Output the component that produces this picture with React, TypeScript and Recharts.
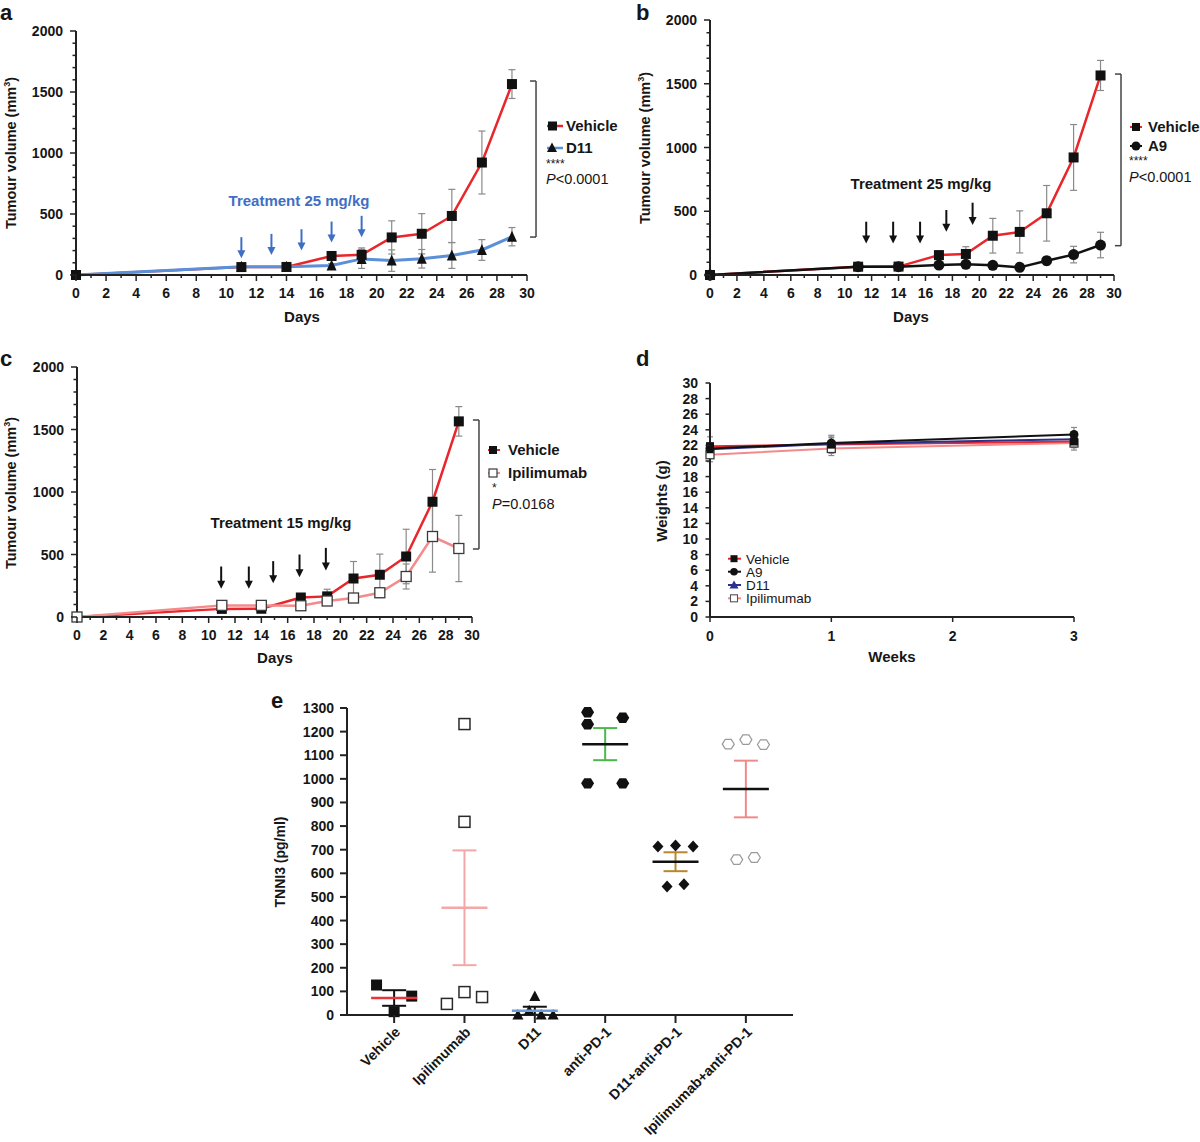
import React from "react";
import {
  LineChart,
  Line,
  XAxis,
  YAxis,
  ErrorBar,
  ReferenceLine,
  ScatterChart,
  Scatter,
} from "recharts";

const FONT = "'Liberation Sans', Arial, Helvetica, sans-serif";
const INK = "#161616";
const AXIS = "#222";
const ERR = "#8a8a8a";
const RED = "#e8262b";
const BLUE = "#5b8fd7";
const TREAT_BLUE = "#3f6fc4";
const PINK = "#f28b8b";
const NAVY = "#2c318f";

// a-c: tumour volume (mm3) by day
const days = [0, 11, 14, 17, 19, 21, 23, 25, 27, 29];
const vehicleVol = [0, 65, 66, 156, 165, 308, 338, 484, 922, 1565];
const vehicleSem = [0, 20, 18, 30, 57, 136, 165, 218, 258, 118];
const d11Vol = [0, 68, 68, 78, 132, 118, 133, 160, 205, 314];
const d11Sem = [0, 22, 15, 15, 78, 88, 76, 106, 85, 75];
const a9Vol = [0, 65, 65, 78, 84, 76, 60, 112, 160, 235];
const a9Sem = [0, 10, 10, 12, 12, 12, 12, 33, 65, 100];
const ipiVol = [0, 93, 93, 90, 128, 152, 194, 324, 644, 548];
const ipiSem = [0, 15, 12, 20, 25, 25, 38, 100, 285, 265];

const dayTicks = Array.from({ length: 31 }, (_, i) => i);
const volTicks = Array.from({ length: 21 }, (_, i) => i * 100);

// treatment arrows: day, top of shaft, tip (mm3)
const arrowDaysA = [11, 13, 15, 17, 19];
const arrowTopA = [310, 337, 375, 438, 485];
const arrowTipA = [137, 164, 200, 266, 310];
const arrowDaysB = [11.6, 13.6, 15.6, 17.55, 19.5];
const arrowTopB = [418, 418, 418, 510, 567];
const arrowTipB = [248, 248, 248, 340, 392];
const arrowDaysC = [10.95, 13.05, 14.9, 16.9, 18.9];
const arrowTopC = [404, 404, 447, 500, 553];
const arrowTipC = [226, 226, 271, 319, 372];

// d: body weight (g) by week
const weeks = [0, 1, 3];
const weekTicks = [0, 1, 2, 3];
const wtTicks = [0, 2, 4, 6, 8, 10, 12, 14, 16, 18, 20, 22, 24, 26, 28, 30];
const vehicleWt = [21.9, 22.1, 22.5];
const vehicleWtSem = [1.2, 1.1, 0.8];
const a9Wt = [21.6, 22.3, 23.4];
const a9WtSem = [0.6, 1.0, 0.9];
const d11Wt = [21.5, 22.2, 22.8];
const d11WtSem = [0.8, 0.8, 0.8];
const ipiWt = [20.8, 21.6, 22.3];
const ipiWtSem = [0.9, 0.9, 0.9];

// e: TNNI3 (pg/ml) per group
const groups = ["Vehicle", "Ipilimumab", "D11", "anti-PD-1", "D11+anti-PD-1", "Ipilimumab+anti-PD-1"];
const tnniTicks = Array.from({ length: 14 }, (_, i) => i * 100);
const groupJitter = [
  [-0.25, 0.25, 0],
  [0, 0, -0.25, 0, 0.25],
  [0, -0.08, -0.24, 0.09, 0.26],
  [-0.25, -0.25, 0.25, -0.25, 0.25],
  [-0.25, 0, 0.25, -0.12, 0.12],
  [-0.25, 0, 0.25, -0.13, 0.12],
];
const groupValues = [
  [127, 80, 14],
  [1232, 818, 47, 97, 76],
  [78, 18, 0, 0, 0],
  [1282, 1231, 1259, 981, 981],
  [714, 718, 714, 544, 554],
  [1147, 1166, 1145, 658, 667],
];
const groupMean = [72, 454, 18, 1147, 649, 957];
const groupSem = [33, 243, 17, 68, 40, 120];
const meanColor = ["#e8353a", "#f4a7a7", "#6b9edc", "#111", "#111", "#111"];
const semColor = ["#111", "#f4a7a7", "#111", "#4cb84c", "#b8862e", "#f08a8a"];

const tickText = { fontFamily: FONT, fontWeight: "bold" as const, fontSize: 14, fill: INK };

function DayTick(p: any) {
  const major = p.payload.value % 2 === 0;
  return (
    <g>
      <line x1={p.x} x2={p.x} y1={p.y} y2={p.y + (major ? 6 : 3)} stroke={AXIS} strokeWidth={1.5} />
      {major && (
        <text x={p.x} y={p.y + 23} textAnchor="middle" {...tickText}>
          {p.payload.value}
        </text>
      )}
    </g>
  );
}

function VolTick(p: any) {
  const major = p.payload.value % 500 === 0;
  return (
    <g>
      <line x1={p.x} x2={p.x - (major ? 6 : 3.5)} y1={p.y} y2={p.y} stroke={AXIS} strokeWidth={1.5} />
      {major && (
        <text x={p.x - 13} y={p.y + 5} textAnchor="end" {...tickText}>
          {p.payload.value}
        </text>
      )}
    </g>
  );
}

function Arrow(p: any) {
  const c = p.color;
  const h = 8;
  return (
    <g>
      <line x1={p.x1} y1={p.y1} x2={p.x2} y2={p.y2 - h + 1} stroke={c} strokeWidth={2} />
      <polygon points={`${p.x2 - 4},${p.y2 - h} ${p.x2 + 4},${p.y2 - h} ${p.x2},${p.y2}`} fill={c} />
    </g>
  );
}

const squareDot = (size: number) => (p: any) =>
  <rect key={p.index} x={p.cx - size / 2} y={p.cy - size / 2} width={size} height={size} fill="#111" />;
const openSquareDot = (size: number) => (p: any) =>
  <rect key={p.index} x={p.cx - size / 2} y={p.cy - size / 2} width={size} height={size} fill="#fff" stroke="#3a3a3a" strokeWidth={1.3} />;
const triangleDot = (size: number, fill = "#111") => (p: any) =>
  <polygon key={p.index} points={`${p.cx},${p.cy - size / 2 - 1} ${p.cx + size / 2},${p.cy + size / 2} ${p.cx - size / 2},${p.cy + size / 2}`} fill={fill} />;
const circleDot = (r: number) => (p: any) => <circle key={p.index} cx={p.cx} cy={p.cy} r={r} fill="#111" />;

function VolumeChart(p: {
  left: number; top: number; width: number; height: number;
  mTop: number; mRight: number; yWidth: number; xHeight: number;
  alt: number[]; altSem: number[]; altColor: string; altWidth: number; altDot: any;
  arrowDays: number[]; arrowTop: number[]; arrowTip: number[]; arrowColor: string;
  bracketX: number; bracketTickX: number; bracketTop: number; bracketBottom: number;
}) {
  const rows = days.map((d, i) => ({
    day: d, veh: vehicleVol[i], vehErr: vehicleSem[i], alt: p.alt[i], altErr: p.altSem[i],
  }));
  const br = { stroke: "#444", strokeWidth: 1.5, ifOverflow: "visible" as const };
  return (
    <div style={{ position: "absolute", left: p.left, top: p.top }}>
      <LineChart width={p.width} height={p.height} data={rows} margin={{ top: p.mTop, right: p.mRight, left: 0, bottom: 0 }}>
        <XAxis type="number" dataKey="day" domain={[0, 30]} ticks={dayTicks} interval={0} height={p.xHeight}
          tick={(t: any) => <DayTick {...t} />} tickSize={0} tickMargin={0} tickLine={false}
          axisLine={{ stroke: AXIS, strokeWidth: 2 }} />
        <YAxis type="number" domain={[0, 2000]} ticks={volTicks} interval={0} width={p.yWidth}
          tick={(t: any) => <VolTick {...t} />} tickSize={0} tickMargin={0} tickLine={false}
          axisLine={{ stroke: AXIS, strokeWidth: 2 }} />
        <Line dataKey="veh" stroke={RED} strokeWidth={2.5} dot={squareDot(10)} activeDot={false} isAnimationActive={false}>
          <ErrorBar dataKey="vehErr" width={3.5} stroke={ERR} strokeWidth={1.2} />
        </Line>
        <Line dataKey="alt" stroke={p.altColor} strokeWidth={p.altWidth} dot={p.altDot} activeDot={false} isAnimationActive={false}>
          <ErrorBar dataKey="altErr" width={3.5} stroke={ERR} strokeWidth={1.2} />
        </Line>
        {p.arrowDays.map((d, i) => (
          <ReferenceLine key={"ar" + i} ifOverflow="visible"
            segment={[{ x: d, y: p.arrowTop[i] }, { x: d, y: p.arrowTip[i] }]}
            shape={(s: any) => <Arrow {...s} color={p.arrowColor} />} />
        ))}
        <ReferenceLine {...br} segment={[{ x: p.bracketX, y: p.bracketTop }, { x: p.bracketX, y: p.bracketBottom }]} />
        <ReferenceLine {...br} segment={[{ x: p.bracketTickX, y: p.bracketTop }, { x: p.bracketX, y: p.bracketTop }]} />
        <ReferenceLine {...br} segment={[{ x: p.bracketTickX, y: p.bracketBottom }, { x: p.bracketX, y: p.bracketBottom }]} />
      </LineChart>
    </div>
  );
}

function WeightChart() {
  const rows = weeks.map((w, i) => ({
    week: w,
    veh: vehicleWt[i], vehErr: vehicleWtSem[i],
    a9: a9Wt[i], a9Err: a9WtSem[i],
    d11: d11Wt[i], d11Err: d11WtSem[i],
    ipi: ipiWt[i], ipiErr: ipiWtSem[i],
  }));
  const series = [
    { key: "ipi", color: PINK, dot: openSquareDot(8) },
    { key: "veh", color: RED, dot: squareDot(8) },
    { key: "d11", color: NAVY, dot: triangleDot(8) },
    { key: "a9", color: "#111", dot: circleDot(4.5) },
  ];
  return (
    <div style={{ position: "absolute", left: 620, top: 340 }}>
      <LineChart width={580} height={330} data={rows} margin={{ top: 43, right: 126, left: 0, bottom: 0 }}>
        <XAxis type="number" dataKey="week" domain={[0, 3]} ticks={weekTicks} interval={0} height={53}
          tickSize={0} tickMargin={0} tickLine={false} axisLine={{ stroke: AXIS, strokeWidth: 2 }}
          tick={(t: any) => (
            <g>
              <line x1={t.x} x2={t.x} y1={t.y} y2={t.y + 5} stroke={AXIS} strokeWidth={1.5} />
              <text x={t.x} y={t.y + 24} textAnchor="middle" {...tickText}>{t.payload.value}</text>
            </g>
          )} />
        <YAxis type="number" domain={[0, 30]} ticks={wtTicks} interval={0} width={90}
          tickSize={0} tickMargin={0} tickLine={false} axisLine={{ stroke: AXIS, strokeWidth: 2 }}
          tick={(t: any) => (
            <g>
              <line x1={t.x} x2={t.x - 4.5} y1={t.y} y2={t.y} stroke={AXIS} strokeWidth={1.5} />
              <text x={t.x - 12} y={t.y + 5} textAnchor="end" {...tickText}>{t.payload.value}</text>
            </g>
          )} />
        {series.map((s) => (
          <Line key={s.key} dataKey={s.key} stroke={s.color} strokeWidth={2} dot={s.dot} activeDot={false} isAnimationActive={false}>
            <ErrorBar dataKey={s.key + "Err"} width={3} stroke={ERR} strokeWidth={1.2} />
          </Line>
        ))}
      </LineChart>
    </div>
  );
}

const groupShape = [
  (p: any) => <rect x={p.cx - 5.5} y={p.cy - 5.5} width={11} height={11} fill="#111" />,
  (p: any) => <rect x={p.cx - 5.5} y={p.cy - 5.5} width={11} height={11} fill="#fff" stroke="#2a2a2a" strokeWidth={1.5} />,
  (p: any) => <polygon points={`${p.cx},${p.cy - 6} ${p.cx + 5.5},${p.cy + 4.5} ${p.cx - 5.5},${p.cy + 4.5}`} fill="#111" />,
  (p: any) => <polygon points={`${p.cx - 6.5},${p.cy} ${p.cx - 3.3},${p.cy - 5.2} ${p.cx + 3.3},${p.cy - 5.2} ${p.cx + 6.5},${p.cy} ${p.cx + 3.3},${p.cy + 5.2} ${p.cx - 3.3},${p.cy + 5.2}`} fill="#111" />,
  (p: any) => <polygon points={`${p.cx},${p.cy - 6} ${p.cx + 5.5},${p.cy} ${p.cx},${p.cy + 6} ${p.cx - 5.5},${p.cy}`} fill="#111" />,
  (p: any) => <polygon points={`${p.cx - 6},${p.cy} ${p.cx - 3},${p.cy - 4.8} ${p.cx + 3},${p.cy - 4.8} ${p.cx + 6},${p.cy} ${p.cx + 3},${p.cy + 4.8} ${p.cx - 3},${p.cy + 4.8}`} fill="#fff" stroke="#9a9a9a" strokeWidth={1.2} />,
];

function TnniChart() {
  return (
    <div style={{ position: "absolute", left: 260, top: 680 }}>
      <ScatterChart width={560} height={462} margin={{ top: 28, right: 27, left: 0, bottom: 0 }}>
        <XAxis type="number" dataKey="x" domain={[-0.67, 5.67]} ticks={[0, 1, 2, 3, 4, 5]} interval={0} height={127}
          tickSize={0} tickMargin={0} tickLine={false} axisLine={{ stroke: AXIS, strokeWidth: 2 }}
          tick={(t: any) => (
            <g>
              <line x1={t.x} x2={t.x} y1={t.y} y2={t.y + 8} stroke={AXIS} strokeWidth={2} />
              <text transform={`translate(${t.x + 7},${t.y + 18}) rotate(-45)`} textAnchor="end" {...tickText} fontSize={14.2}>
                {groups[t.payload.value]}
              </text>
            </g>
          )} />
        <YAxis type="number" dataKey="y" domain={[0, 1300]} ticks={tnniTicks} interval={0} width={87}
          tickSize={0} tickMargin={0} tickLine={false} axisLine={{ stroke: AXIS, strokeWidth: 2 }}
          tick={(t: any) => (
            <g>
              <line x1={t.x} x2={t.x - 7} y1={t.y} y2={t.y} stroke={AXIS} strokeWidth={2} />
              <text x={t.x - 13} y={t.y + 5} textAnchor="end" {...tickText}>{t.payload.value}</text>
            </g>
          )} />
        {groups.map((g, gi) => (
          <Scatter key={"pts" + gi} data={groupValues[gi].map((v, k) => ({ x: gi + groupJitter[gi][k], y: v }))}
            shape={groupShape[gi]} isAnimationActive={false} />
        ))}
        {groups.map((g, gi) => (
          <Scatter key={"mean" + gi} data={[{ x: gi, y: groupMean[gi], err: groupSem[gi] }]} isAnimationActive={false}
            shape={(p: any) => <line x1={p.cx - 23} x2={p.cx + 23} y1={p.cy} y2={p.cy} stroke={meanColor[gi]} strokeWidth={2.5} />}>
            <ErrorBar dataKey="err" direction="y" width={12} stroke={semColor[gi]} strokeWidth={2} />
          </Scatter>
        ))}
      </ScatterChart>
    </div>
  );
}

const T = (props: any) => <text fontFamily={FONT} fill={INK} {...props} />;

function Overlay() {
  const bold = { fontWeight: "bold" };
  return (
    <svg width={1200} height={1142} style={{ position: "absolute", left: 0, top: 0, pointerEvents: "none" }}>
      {/* panel letters */}
      <T x={0} y={20} fontSize={22} {...bold}>a</T>
      <T x={636} y={20} fontSize={22} {...bold}>b</T>
      <T x={0} y={366} fontSize={22} {...bold}>c</T>
      <T x={636} y={366} fontSize={22} {...bold}>d</T>
      <T x={271} y={708} fontSize={22} {...bold}>e</T>

      {/* axis titles */}
      {[[16, 153], [650, 148], [16, 493]].map(([x, y], i) => (
        <T key={"yt" + i} transform={`translate(${x},${y}) rotate(-90)`} textAnchor="middle" fontSize={14.5} {...bold}>
          Tumour volume (mm<tspan dy={-6} fontSize={9}>3</tspan><tspan dy={6}>)</tspan>
        </T>
      ))}
      <T transform="translate(667,501) rotate(-90)" textAnchor="middle" fontSize={15} {...bold}>Weights (g)</T>
      <T transform="translate(285,862) rotate(-90)" textAnchor="middle" fontSize={14} {...bold}>TNNI3 (pg/ml)</T>
      <T x={302} y={322} textAnchor="middle" fontSize={15} {...bold}>Days</T>
      <T x={911} y={322} textAnchor="middle" fontSize={15} {...bold}>Days</T>
      <T x={275} y={663} textAnchor="middle" fontSize={15} {...bold}>Days</T>
      <T x={892} y={662} textAnchor="middle" fontSize={15} {...bold}>Weeks</T>

      {/* treatment labels */}
      <T x={299} y={206} textAnchor="middle" fontSize={15} fill={TREAT_BLUE} {...bold}>Treatment 25 mg/kg</T>
      <T x={921} y={189} textAnchor="middle" fontSize={15} {...bold}>Treatment 25 mg/kg</T>
      <T x={281} y={528} textAnchor="middle" fontSize={15} {...bold}>Treatment 15 mg/kg</T>

      {/* legend a */}
      <line x1={547} x2={563} y1={126} y2={126} stroke={RED} strokeWidth={2.5} />
      <rect x={548} y={121.5} width={9} height={9} fill="#111" />
      <line x1={547} x2={563} y1={148} y2={148} stroke={BLUE} strokeWidth={2.5} />
      <polygon points="552,142.5 557,152 547,152" fill="#111" />
      <T x={566} y={131} fontSize={15} {...bold}>Vehicle</T>
      <T x={566} y={153} fontSize={15} {...bold}>D11</T>
      <T x={546} y={168} fontSize={12}>****</T>
      <T x={546} y={184} fontSize={14.5}><tspan fontStyle="italic">P</tspan>&lt;0.0001</T>

      {/* legend b */}
      <line x1={1130} x2={1142} y1={127} y2={127} stroke={RED} strokeWidth={2} />
      <rect x={1132} y={123} width={8} height={8} fill="#111" />
      <line x1={1130} x2={1142} y1={146} y2={146} stroke="#111" strokeWidth={2} />
      <circle cx={1136} cy={146} r={4.5} fill="#111" />
      <T x={1148} y={132} fontSize={15} {...bold}>Vehicle</T>
      <T x={1148} y={151} fontSize={15} {...bold}>A9</T>
      <T x={1129} y={165} fontSize={12}>****</T>
      <T x={1129} y={182} fontSize={14.5}><tspan fontStyle="italic">P</tspan>&lt;0.0001</T>

      {/* legend c */}
      <line x1={488} x2={500} y1={450} y2={450} stroke={RED} strokeWidth={2} />
      <rect x={489} y={446} width={8} height={8} fill="#111" />
      <line x1={488} x2={500} y1={473} y2={473} stroke={PINK} strokeWidth={2} />
      <rect x={489} y={469} width={8} height={8} fill="#fff" stroke="#3a3a3a" strokeWidth={1.2} />
      <T x={508} y={455} fontSize={15} {...bold}>Vehicle</T>
      <T x={508} y={478} fontSize={15} {...bold}>Ipilimumab</T>
      <T x={492} y={492} fontSize={12}>*</T>
      <T x={492} y={509} fontSize={14.5}><tspan fontStyle="italic">P</tspan>=0.0168</T>

      {/* legend d */}
      <line x1={728} x2={741} y1={558.7} y2={558.7} stroke={RED} strokeWidth={2} />
      <rect x={730.5} y={555.2} width={7} height={7} fill="#111" />
      <line x1={728} x2={741} y1={571.7} y2={571.7} stroke="#111" strokeWidth={2} />
      <circle cx={734} cy={571.7} r={3.8} fill="#111" />
      <line x1={728} x2={741} y1={585} y2={585} stroke={NAVY} strokeWidth={2} />
      <polygon points="734,580.5 738.5,588.5 729.5,588.5" fill={NAVY} />
      <line x1={728} x2={741} y1={598.3} y2={598.3} stroke={PINK} strokeWidth={2} />
      <rect x={730.5} y={594.8} width={7} height={7} fill="#fff" stroke="#555" strokeWidth={1.1} />
      <T x={746} y={563.5} fontSize={13.5}>Vehicle</T>
      <T x={746} y={576.5} fontSize={13.5}>A9</T>
      <T x={746} y={589.5} fontSize={13.5}>D11</T>
      <T x={746} y={603} fontSize={13.5}>Ipilimumab</T>
    </svg>
  );
}

export default function App() {
  return (
    <div style={{ position: "absolute", left: 0, top: 0, width: 1200, height: 1142, background: "#fff", fontFamily: FONT }}>
      <VolumeChart left={0} top={0} width={620} height={330} mTop={31} mRight={93} yWidth={76} xHeight={55}
        alt={d11Vol} altSem={d11Sem} altColor={BLUE} altWidth={3} altDot={triangleDot(10)}
        arrowDays={arrowDaysA} arrowTop={arrowTopA} arrowTip={arrowTipA} arrowColor={TREAT_BLUE}
        bracketX={30.6} bracketTickX={30.2} bracketTop={1590} bracketBottom={311} />
      <VolumeChart left={620} top={0} width={580} height={330} mTop={20} mRight={86} yWidth={90} xHeight={55}
        alt={a9Vol} altSem={a9Sem} altColor="#111" altWidth={2.5} altDot={circleDot(5.5)}
        arrowDays={arrowDaysB} arrowTop={arrowTopB} arrowTip={arrowTipB} arrowColor="#111"
        bracketX={30.52} bracketTickX={30.07} bracketTop={1576} bracketBottom={230} />
      <VolumeChart left={0} top={340} width={620} height={330} mTop={27} mRight={148} yWidth={77} xHeight={53}
        alt={ipiVol} altSem={ipiSem} altColor={PINK} altWidth={2.5} altDot={openSquareDot(10)}
        arrowDays={arrowDaysC} arrowTop={arrowTopC} arrowTip={arrowTipC} arrowColor="#111"
        bracketX={30.53} bracketTickX={30.07} bracketTop={1576} bracketBottom={544} />
      <WeightChart />
      <TnniChart />
      <Overlay />
    </div>
  );
}
